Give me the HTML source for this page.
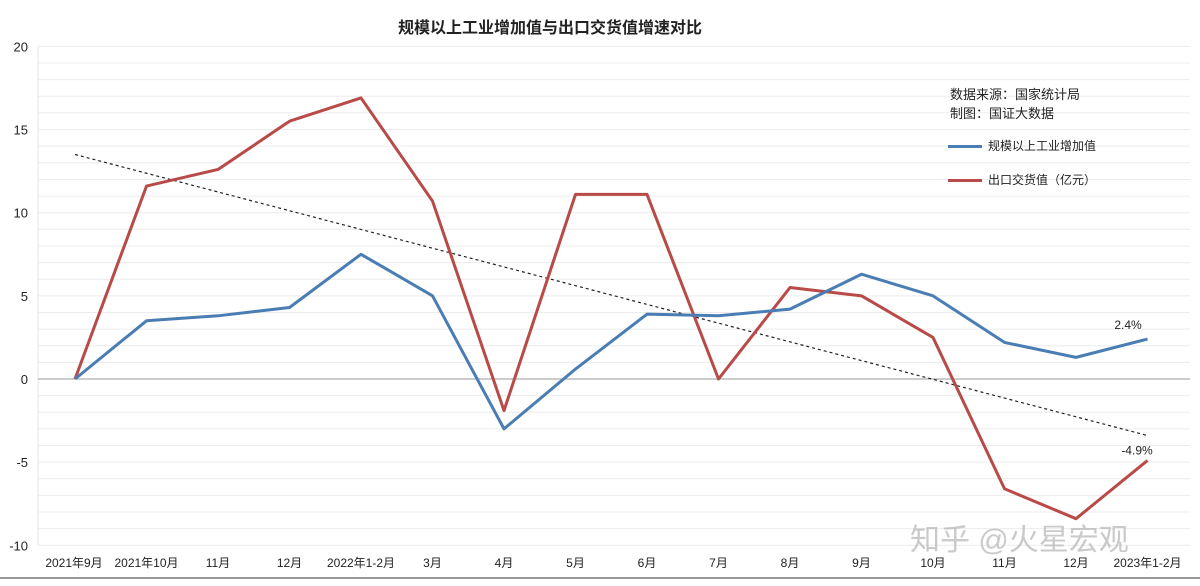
<!DOCTYPE html>
<html><head><meta charset="utf-8"><style>
body{margin:0;background:#fff;}
svg text{font-family:"Liberation Sans","Noto Sans CJK SC",sans-serif;}
</style></head><body>
<svg id="c" width="1200" height="581" xmlns="http://www.w3.org/2000/svg"></svg>
<script>
const categories=["2021年9月","2021年10月","11月","12月","2022年1-2月","3月","4月","5月","6月","7月","8月","9月","10月","11月","12月","2023年1-2月"];
const industrial=[0,3.5,3.8,4.3,7.5,5.0,-3.0,0.6,3.9,3.8,4.2,6.3,5.0,2.2,1.3,2.4];
const exportsVal=[0,11.6,12.6,15.5,16.9,10.7,-1.9,11.1,11.1,0,5.5,5.0,2.5,-6.6,-8.4,-4.9];
const trend=[13.5,-3.4];
const yTicks=[20,15,10,5,0,-5,-10];
const svg=document.getElementById('c');const NS='http://www.w3.org/2000/svg';
const X0=75,DX=71.5,Y0=379,PU=16.63;
const x=i=>X0+i*DX, y=v=>Y0-v*PU;
function el(t,a,p){const e=document.createElementNS(NS,t);for(const k in a)e.setAttribute(k,a[k]);(p||svg).appendChild(e);return e;}
for(let v=-10;v<=20;v++){const g=el('line',{x1:38,x2:1190,y1:y(v),y2:y(v),stroke:'#ececec','stroke-width':1});
}
el('line',{x1:38,x2:38,y1:y(20),y2:y(-10),stroke:'#e4e4e4'});
const ax=el('line',{x1:38,x2:1190,y1:y(0),y2:y(0),stroke:'#999','stroke-width':1});

el('line',{x1:0,x2:1200,y1:578,y2:578,stroke:'#999','stroke-width':2});
yTicks.forEach(v=>{const t=el('text',{x:28,y:y(v)+5,'text-anchor':'end','font-size':13,fill:'#222'});t.textContent=v;
});
categories.forEach((c,i)=>{const t=el('text',{x:x(i)-(i==0?1:0),y:567,'text-anchor':'middle','font-size':12,fill:'#222'});t.textContent=c;
});
const tl=el('line',{x1:x(0),y1:y(trend[0]),x2:x(15),y2:y(trend[1]),stroke:'#222','stroke-width':1.2,'stroke-dasharray':'3,3'});

function series(d,col,name){const p=el('polyline',{points:d.map((v,i)=>x(i)+','+y(v)).join(' '),fill:'none',stroke:col,'stroke-width':3,'stroke-linejoin':'round'});
}
series(exportsVal,'#b84a48','export-line');
series(industrial,'#4a7db4','industrial-line');
let t=el('text',{x:1128,y:y(industrial[15])-10,'font-size':12,fill:'#222','text-anchor':'middle'});t.textContent=industrial[15]+'%';

t=el('text',{x:1137,y:y(exportsVal[15])-6,'font-size':12,fill:'#222','text-anchor':'middle'});t.textContent=exportsVal[15]+'%';

</script>
<div style="position:absolute;left:0;top:14px;width:1100px;text-align:center;font:bold 16px 'Liberation Sans','Noto Sans CJK SC',sans-serif;color:#222">规模以上工业增加值与出口交货值增速对比</div>
<div style="position:absolute;left:950px;top:85px;font:13px 'Liberation Sans','Noto Sans CJK SC',sans-serif;color:#222;line-height:19px">数据来源：国家统计局<br>制图：国证大数据</div>
<div style="position:absolute;left:948px;top:137px;font:12px 'Liberation Sans','Noto Sans CJK SC',sans-serif;color:#222"><span style="display:inline-block;width:34px;height:3px;background:#4a7db4;vertical-align:middle;margin-right:6px"></span>规模以上工业增加值</div>
<div style="position:absolute;left:948px;top:171px;font:12px 'Liberation Sans','Noto Sans CJK SC',sans-serif;color:#222"><span style="display:inline-block;width:34px;height:3px;background:#b84a48;vertical-align:middle;margin-right:6px"></span>出口交货值（亿元）</div>
<div style="position:absolute;left:910px;top:515px;font:30px 'Liberation Sans','Noto Sans CJK SC',sans-serif;color:rgba(180,180,180,0.7)">知乎 @火星宏观</div>
</body></html>
